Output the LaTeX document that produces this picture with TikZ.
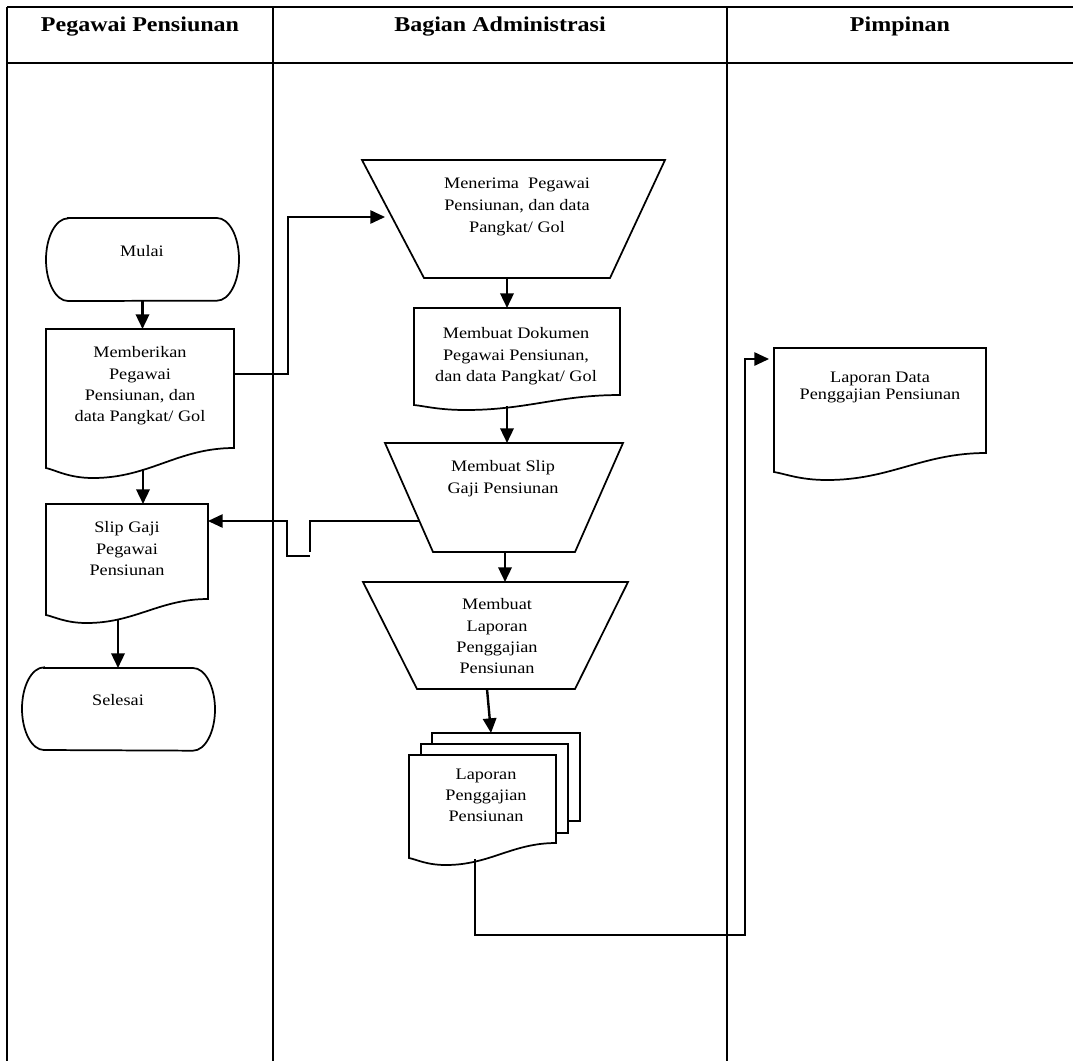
\documentclass[tikz,border=0pt]{standalone}
\usepackage{fontspec}
\setmainfont{Liberation Serif}[FakeStretch=1.14]
\usetikzlibrary{arrows.meta,fit,calc}

% one unit = one pixel, y grows downwards
\tikzset{
  lane/.style={line width=1.8pt},
  outline/.style={line width=1.3pt, line join=miter},
  sheet/.style={outline, fill=white},
  flow/.style={line width=1.8pt, -{Triangle[length=11pt,width=10pt]}},
  link/.style={line width=1.3pt},
  linkarrow/.style={link, -{Triangle[length=11pt,width=10pt]}},
  boxarea/.style={inner sep=0pt, outer sep=0pt},
  txt/.style={anchor=north, align=center, inner sep=0pt, font=\fontsize{12}{16}\selectfont},
  head/.style={anchor=base, inner sep=0pt, font=\fontsize{15.8}{19}\selectfont\bfseries},
}

% document symbol: #2 area node, #3 left drop, #4 right drop (pixels above the dip)
\newcommand\docpath[4][outline]{%
  \draw[#1] (#2.north west) -- (#2.north east)
    -- ($(#2.south east)+(0,-#4)$)
    .. controls ($(#2.south west)!0.7!(#2.south east)+(0,-#4)$)
            and ($(#2.south west)!0.55!(#2.south east)$)
    .. ($(#2.south west)!0.25!(#2.south east)$)
    .. controls ($(#2.south west)!0.12!(#2.south east)$)
            and ($(#2.south west)!0.05!(#2.south east)+(0,-0.8*#3)$)
    .. ($(#2.south west)+(0,-#3)$) -- cycle;}

% manual operation: #1 area node, #2 left inset, #3 right inset
\newcommand\trappath[3]{%
  \draw[outline] (#1.north west) -- (#1.north east)
    -- ($(#1.south east)+(-#3,0)$) -- ($(#1.south west)+(#2,0)$) -- cycle;}

% terminator with flattened elliptic ends
\newcommand\termpath[1]{%
  \draw[outline] ($(#1.north west)+(22,0)$) -- ($(#1.north east)+(-22,0)$)
    arc[start angle=90,end angle=-90,x radius=16.5pt,y radius=31pt]
    -- ($(#1.south west)+(22,0)$)
    arc[start angle=270,end angle=90,x radius=16.5pt,y radius=31pt] -- cycle;}

\begin{document}
\begin{tikzpicture}[x=0.75pt,y=-0.75pt]
\useasboundingbox (0,0) rectangle (1073,1061);

% swimlane table
\draw[lane] (7,7) -- (1073,7);
\draw[lane] (7,63) -- (1073,63);
\draw[lane] (7,7) -- (7,1061);
\draw[lane] (273,7) -- (273,1061);
\draw[lane] (727,7) -- (727,1061);

\node[head] (h1) at (140,31) {Pegawai Pensiunan};
\node[head] (h2) at (500,31) {Bagian Administrasi};
\node[head] (h3) at (900,31) {Pimpinan};

% symbol areas
\node[boxarea, fit={(46,218)(239,301)}] (mulai) {};
\node[boxarea, fit={(46,329)(234,478)}] (memb) {};
\node[boxarea, fit={(46,504)(208,623)}] (slipgaji) {};
\node[boxarea, fit={(22,668)(215,750)}] (selesai) {};
\node[boxarea, fit={(362,160)(665,278)}] (mener) {};
\node[boxarea, fit={(414,308)(620,410)}] (dok) {};
\node[boxarea, fit={(385,443)(623,552)}] (sliptrap) {};
\node[boxarea, fit={(363,582)(628,689)}] (laptrap) {};
\node[boxarea, fit={(432,733)(580,821)}] (lapback) {};
\node[boxarea, fit={(421,744)(568,833)}] (lapmid) {};
\node[boxarea, fit={(409,755)(556,865)}] (lapfront) {};
\node[boxarea, fit={(774,348)(986,480)}] (lapdata) {};

% outlines
\termpath{mulai}
\docpath{memb}{10}{30}
\docpath{slipgaji}{8}{24}
\termpath{selesai}
\trappath{mener}{62}{55}
\docpath{dok}{5}{15}
\trappath{sliptrap}{48}{48}
\trappath{laptrap}{54}{53}
\draw[sheet] (lapback.north west) rectangle (lapback.south east);
\draw[sheet] (lapmid.north west) rectangle (lapmid.south east);
\docpath[sheet]{lapfront}{7}{22}
\docpath{lapdata}{8}{27}

% texts (placed by the top of their first line)
\node[txt] (t-mulai) at (142,245) {Mulai};
\node[txt] (t-memb) at (140,346.5) {Memberikan\\Pegawai\\Pensiunan, dan\\data Pangkat/ Gol};
\node[txt] (t-slipgaji) at (127,521.5) {Slip Gaji\\Pegawai\\Pensiunan};
\node[txt] (t-selesai) at (118,694) {Selesai};
\node[txt, font=\fontsize{12}{16.5}\selectfont] (t-mener) at (517,177.5) {Menerima\ \ Pegawai\\Pensiunan, dan data\\Pangkat/ Gol};
\node[txt] (t-dok) at (516,327.5) {Membuat Dokumen\\Pegawai Pensiunan,\\dan data Pangkat/ Gol};
\node[txt] (t-sliptrap) at (503,460.5) {Membuat Slip\\Gaji Pensiunan};
\node[txt] (t-laptrap) at (497,598.5) {Membuat\\Laporan\\Penggajian\\Pensiunan};
\node[txt] (t-lapfront) at (486,768.5) {Laporan\\Penggajian\\Pensiunan};
\node[txt, font=\fontsize{12}{12.75}\selectfont] (t-lapdata) at (880,371.5) {Laporan Data\\Penggajian Pensiunan};

% helper points for connector routes
\coordinate (xa) at (143,0);
\coordinate (xb) at (507,0);
\coordinate (xc) at (505,0);
\coordinate (xd) at (487,0);
\coordinate (xd2) at (491,0);
\coordinate (xf) at (118,0);
\coordinate (lkx) at (475,0);
\coordinate (j1) at (288,374);
\coordinate (j2) at (385,217);
\coordinate (s0) at (420,521);
\coordinate (s1) at (310,552);
\coordinate (s2) at (310,556);
\coordinate (s3) at (287,521);
\coordinate (lk1) at (745,935);
\coordinate (lk2) at (769,359);

% connectors
\draw[flow] (mulai.south) -- (mulai.south |- memb.north);
\draw[linkarrow] (memb.east |- j1) -- (j1) |- (j2);
\draw[flow] ($(memb.south -| xa)+(0,-9)$) -- (slipgaji.north -| xa);
\draw[flow] ($(slipgaji.south -| xf)+(0,-4)$) -- (selesai.north -| xf);
\draw[flow] (mener.south -| xb) -- (dok.north -| xb);
\draw[flow] ($(dok.south -| xb)+(0,-4)$) -- (sliptrap.north -| xb);
\draw[link] (s0) -| (s1);
\draw[linkarrow] (s2) -| (s3) -- (slipgaji.east |- s3);
\draw[flow] (sliptrap.south -| xc) -- (laptrap.north -| xc);
\draw[flow] (laptrap.south -| xd) -- (lapback.north -| xd2);
\draw[linkarrow] ($(lapfront.south -| lkx)+(0,-6)$) |- (lk1) |- (lk2);
\end{tikzpicture}
\end{document}
